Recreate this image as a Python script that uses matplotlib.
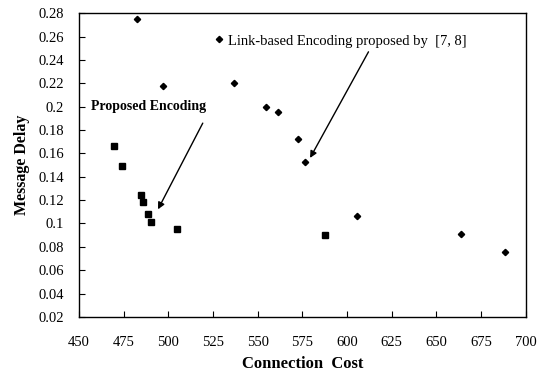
import matplotlib.pyplot as plt

plt.rcParams["font.family"] = ["Liberation Serif", "DejaVu Serif"]

# proposed encoding (squares)
prop_cost = [469.6, 473.9, 484.7, 486.0, 488.8, 490.1, 505.0, 587.6]
prop_delay = [0.166, 0.149, 0.124, 0.118, 0.108, 0.101, 0.095, 0.090]

# link-based encoding [7, 8] (diamonds)
link_cost = [482.3, 497.2, 528.3, 536.7, 554.4, 561.1, 572.6, 576.4, 605.7, 664.0, 688.6]
link_delay = [0.275, 0.218, 0.258, 0.220, 0.200, 0.195, 0.172, 0.153, 0.106, 0.091, 0.076]

xticks = [450, 475, 500, 525, 550, 575, 600, 625, 650, 675, 700]
yticks = [0.02, 0.04, 0.06, 0.08, 0.1, 0.12, 0.14, 0.16, 0.18, 0.2, 0.22, 0.24, 0.26, 0.28]

fig = plt.figure(figsize=(5.46, 3.76), dpi=100)
ax = fig.add_axes([0.145, 0.157, 0.818, 0.808])

ax.plot(prop_cost, prop_delay, "s", color="black", markersize=4.3, linestyle="none")
ax.plot(link_cost, link_delay, "D", color="black", markersize=3.2, linestyle="none")

ax.set_xlim(450, 700)
ax.set_ylim(0.02, 0.28)
ax.set_xticks(xticks)
ax.set_yticks(yticks)
ax.set_yticklabels([f"{v:g}" for v in yticks])
ax.tick_params(direction="in", length=4, width=0.8, labelsize=10.5, colors="black")
ax.tick_params(axis="x", pad=14)
ax.tick_params(axis="y", pad=11)
for s in ax.spines.values():
    s.set_linewidth(1.0)

ax.set_xlabel("Connection  Cost", fontsize=12, fontweight="bold", labelpad=5)
ax.set_ylabel("Message Delay", fontsize=11.5, fontweight="bold", labelpad=6)

ax.annotate("", xy=(493.4, 0.110), xytext=(519.9, 0.188),
            arrowprops=dict(arrowstyle="-|>", color="black", lw=1.0, mutation_scale=10))
ax.text(456.5, 0.200, "Proposed Encoding", fontsize=10, fontweight="bold",
        va="center", ha="left")

ax.annotate("", xy=(578.5, 0.154), xytext=(612.7, 0.249),
            arrowprops=dict(arrowstyle="-|>", color="black", lw=1.0, mutation_scale=10))
ax.text(533.5, 0.256, "Link-based Encoding proposed by  [7, 8]", fontsize=10.5,
        va="center", ha="left")

fig.savefig("out.png", dpi=100)
